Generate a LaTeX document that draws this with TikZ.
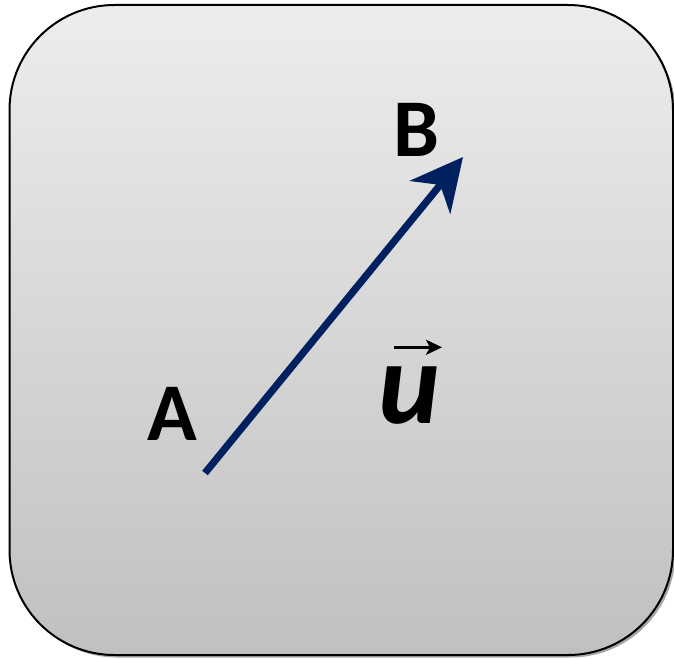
\documentclass[tikz,border=0pt]{standalone}
\usepackage{fontspec}
\setmainfont{Carlito}
\usetikzlibrary{arrows.meta,shadows}
\definecolor{vecblue}{HTML}{002060}
\definecolor{boxtop}{HTML}{EDEDED}
\definecolor{boxbot}{HTML}{C0C0C0}
\tikzset{
  panel/.style={draw=black, line width=2pt, rounded corners=105pt,
    top color=boxtop, bottom color=boxbot, inner sep=0pt, outer sep=0pt,
    drop shadow={shadow xshift=2.5pt, shadow yshift=-2.5pt, opacity=0.35, fill=black}},
  pointlabel/.style={inner sep=0pt, font=\bfseries\fontsize{82}{82}\selectfont},
  veclabel/.style={inner sep=0pt, font=\bfseries\itshape\fontsize{117}{117}\selectfont},
  vecline/.style={draw=vecblue, line width=7.2pt, -{Stealth[length=52pt, width=52pt, inset=16pt]}},
  vecmark/.style={draw=black, line width=3.3pt, -{Stealth[length=16pt, width=15pt, inset=4pt]}}
}
\begin{document}
\begin{tikzpicture}[x=1pt,y=-1pt]
\useasboundingbox (0,0) rectangle (674,658);
\node[panel, minimum width=663.5pt, minimum height=650pt] (box) at (341.25,330) {};
\coordinate (start) at (205,473);
\coordinate (tip) at (463,157);
\draw[vecline] (start) -- (tip);
\node[pointlabel] (A) at (172,414) {A};
\node[pointlabel] (B) at (416.5,129.5) {B};
\node[veclabel] (u) at (409,395.5) {u};
\coordinate (m1) at (394,347.3);
\coordinate (m2) at (442,347.3);
\draw[vecmark] (m1) -- (m2);
\end{tikzpicture}
\end{document}
